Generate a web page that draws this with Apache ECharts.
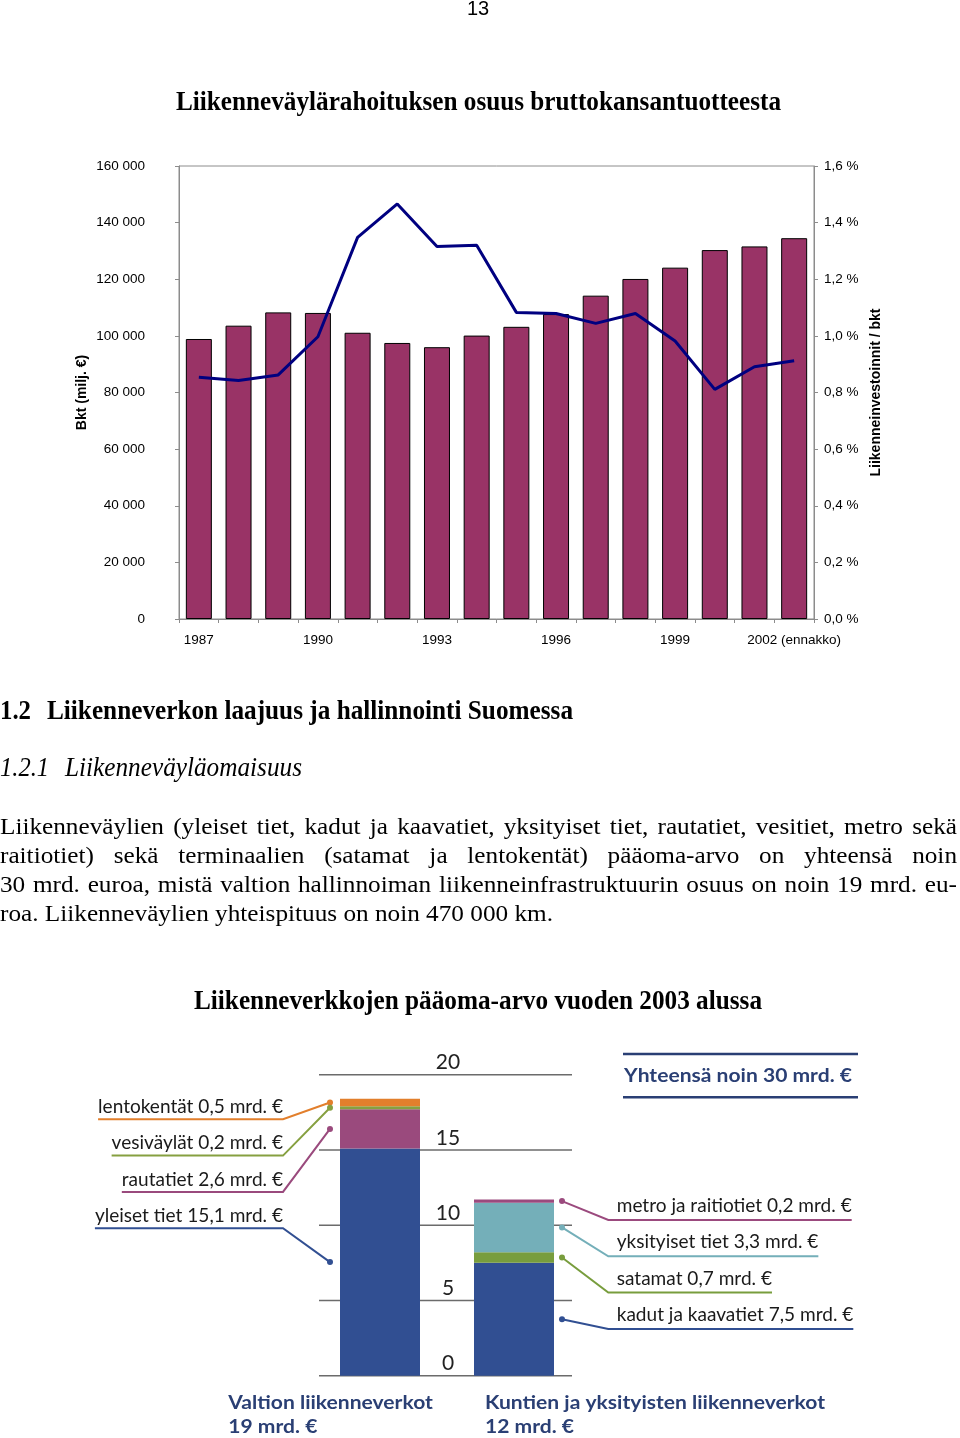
<!DOCTYPE html>
<html>
<head>
<meta charset="utf-8">
<script src="https://cdn.jsdelivr.net/npm/echarts@6/dist/echarts.min.js"></script>
<style>html,body{margin:0;padding:0;background:#fff}#main{width:960px;height:1438px}</style>
</head>
<body>
<div id="main"></div>
<script>
// ---------- Chart 1 data ----------
const years = ['1987','1988','1989','1990','1991','1992','1993','1994','1995','1996','1997','1998','1999','2000','2001','2002 (ennakko)'];
const gdpMillions = [98900,103600,108300,108100,101100,97500,96000,100100,103200,107700,114200,120100,124100,130300,131600,134500];
const investShare = [0.854,0.842,0.862,0.997,1.348,1.466,1.316,1.320,1.083,1.079,1.044,1.079,0.982,0.811,0.891,0.912];
const gdpTicks = [0,20000,40000,60000,80000,100000,120000,140000,160000];
const shareTicks = [0,0.2,0.4,0.6,0.8,1.0,1.2,1.4,1.6];

// ---------- Chart 2 data ----------
const networkNames = ['Valtion liikenneverkot','Kuntien ja yksityisten liikenneverkot'];
const networkTotals = ['19 mrd. €','12 mrd. €'];
const stateParts = ['yleiset tiet','rautatiet','vesiväylät','lentokentät'];
const stateValues = [15.1, 2.6, 0.2, 0.5];
const localParts = ['kadut ja kaavatiet','satamat','yksityiset tiet','metro ja raitiotiet'];
const localValues = [7.5, 0.7, 3.3, 0.2];
const valueTicks = [0,5,10,15,20];
const grandTotal = 'Yhteensä noin 30 mrd. €';

// ---------- Texts ----------
const pageNumber = '13';
const title1 = 'Liikenneväylärahoituksen osuus bruttokansantuotteesta';
const title2 = 'Liikenneverkkojen pääoma-arvo vuoden 2003 alussa';
const heading = ['1.2', 'Liikenneverkon laajuus ja hallinnointi Suomessa'];
const subheading = ['1.2.1', 'Liikenneväyläomaisuus'];
const bodyLines = [
  'Liikenneväylien (yleiset tiet, kadut ja kaavatiet, yksityiset tiet, rautatiet, vesitiet, metro sekä',
  'raitiotiet) sekä terminaalien (satamat ja lentokentät) pääoma-arvo on yhteensä noin',
  '30 mrd. euroa, mistä valtion hallinnoiman liikenneinfrastruktuurin osuus on noin 19 mrd. eu-',
  'roa. Liikenneväylien yhteispituus on noin 470 000 km.'
];

// ---------- Styles ----------
const SANS = '"Liberation Sans", Arial, sans-serif';
const SERIF = '"Liberation Serif", "Times New Roman", serif';
const GILL = 'Lato, "Open Sans", sans-serif';
const stateColors = ['#314f92','#9a4a7d','#86a040','#e27f2c'];
const localColors = ['#314f92','#789d3d','#74afb9','#9b4a7e'];
const navy = '#2a3f74';
const axisGray = '#8c8c8c';

const fmtThousands = v => String(v).replace(/\B(?=(\d{3})+(?!\d))/g, ' ');
const fmtComma = v => String(v).replace('.', ',');

const chart = echarts.init(document.getElementById('main'), null, {renderer:'canvas', width:960, height:1438});

const series = [
  {type:'bar', name:'Bkt', xAxisIndex:0, yAxisIndex:0, data:gdpMillions, barWidth:26,
   itemStyle:{color:'#993366', borderColor:'#000', borderWidth:1}, silent:true, z:2},
  {type:'line', name:'Liikenneinvestoinnit / bkt', xAxisIndex:0, yAxisIndex:1, data:investShare,
   symbol:'none', lineStyle:{color:'#000080', width:3}, itemStyle:{color:'#000080'}, silent:true, z:3}
];
for (let k = 0; k < 4; k++) {
  series.push({
    type:'bar', xAxisIndex:1, yAxisIndex:2, stack:'net', barWidth:80, silent:true, z:2,
    data:[{value:stateValues[k], itemStyle:{color:stateColors[k]}}, {value:localValues[k], itemStyle:{color:localColors[k]}}]
  });
}

const axisFont = {color:'#000', fontFamily:SANS, fontSize:13.5};
const option = {
  animation:false,
  backgroundColor:'#ffffff',
  tooltip:{show:false},
  grid:[
    {left:179, right:146, top:166, bottom:819, show:true, borderColor:axisGray, borderWidth:1, backgroundColor:'transparent', containLabel:false, outerBoundsMode:'none'},
    {left:313, right:379, top:1074.7, bottom:62.3, show:false, containLabel:false, outerBoundsMode:'none'}
  ],
  xAxis:[
    {type:'category', gridIndex:0, data:years, boundaryGap:true,
     axisLine:{show:true, lineStyle:{color:axisGray, width:1}},
     axisTick:{show:true, interval:0, length:4, lineStyle:{color:axisGray}},
     axisLabel:Object.assign({interval:2, margin:14}, axisFont),
     splitLine:{show:false}},
    {type:'category', gridIndex:1, data:networkNames, show:false}
  ],
  yAxis:[
    {type:'value', gridIndex:0, min:gdpTicks[0], max:gdpTicks[gdpTicks.length-1], interval:gdpTicks[1]-gdpTicks[0], position:'left',
     name:'Bkt (milj. €)', nameLocation:'middle', nameGap:90, nameRotate:90, nameMoveOverlap:false,
     nameTextStyle:{fontFamily:SANS, fontSize:14, fontWeight:'bold', color:'#000'},
     axisLine:{show:true, lineStyle:{color:axisGray, width:1}},
     axisTick:{show:true, length:4, lineStyle:{color:axisGray}},
     splitLine:{show:false},
     axisLabel:Object.assign({margin:34, formatter:v => fmtThousands(v)}, axisFont)},
    {type:'value', gridIndex:0, min:shareTicks[0], max:shareTicks[shareTicks.length-1], interval:0.2, position:'right',
     name:'Liikenneinvestoinnit / bkt', nameLocation:'middle', nameGap:54, nameRotate:90,
     nameTextStyle:{fontFamily:SANS, fontSize:14, fontWeight:'bold', color:'#000'},
     axisLine:{show:true, lineStyle:{color:axisGray, width:1}},
     axisTick:{show:true, length:4, lineStyle:{color:axisGray}},
     splitLine:{show:false},
     axisLabel:Object.assign({margin:10, formatter:v => v.toFixed(1).replace('.', ',') + ' %'}, axisFont)},
    {type:'value', gridIndex:1, min:valueTicks[0], max:valueTicks[valueTicks.length-1], interval:5, position:'left', offset:-135,
     axisLine:{show:false}, axisTick:{show:false},
     splitLine:{show:false},
     axisLabel:{margin:0, align:'center', verticalAlign:'bottom', lineHeight:24, color:'#222', fontFamily:GILL, fontSize:21}}
  ],
  series
};
chart.setOption(option);

// ---------- Text & annotation layer ----------
const ctx = document.createElement('canvas').getContext('2d');
function tw(t, font) { ctx.font = font; return ctx.measureText(t).width; }
function txt(t, x, y, font, o) {
  o = o || {};
  const al = o.align || 'left';
  return {type:'text', x:x, y:y, scaleX:o.sx || 1, scaleY:1, z:100, silent:true,
    style:{text:t, font:font, fill:o.fill || '#000', align:al, textAlign:al, verticalAlign:'middle', textVerticalAlign:'middle'}};
}
function fitText(t, font, left, right, cy, fill) {
  const s = (right - left) / tw(t, font);
  return txt(t, left, cy, font, {sx:s, fill:fill});
}
const G = [];

// page number
G.push(txt(pageNumber, 478, 9, '20px ' + SANS, {align:'center'}));

// chart titles
const titleFont = 'bold 28px ' + SERIF;
G.push(fitText(title1, titleFont, 176, 781, 103));
G.push(fitText(title2, titleFont, 194, 762, 1002));

// headings
const headFont = 'bold 27px ' + SERIF;
G.push(fitText(heading[0], headFont, 0, 31, 712));
G.push(fitText(heading[1], headFont, 47, 573, 712));
const subFont = 'italic 27px ' + SERIF;
G.push(fitText(subheading[0], subFont, 0, 49, 769));
G.push(fitText(subheading[1], subFont, 65, 302, 769));

// body paragraph (justified)
const bodyFont = '23px ' + SERIF;
const bodyScale = 553 / tw(bodyLines[3], bodyFont);
const bodyTop = 828, bodyStep = 29, bodyWidth = 957;
bodyLines.forEach((line, li) => {
  const cy = bodyTop + li * bodyStep;
  if (li === bodyLines.length - 1) {
    G.push(txt(line, 0, cy, bodyFont, {sx:bodyScale}));
    return;
  }
  const words = line.split(' ');
  const widths = words.map(w => tw(w, bodyFont) * bodyScale);
  const total = widths.reduce((a, b) => a + b, 0);
  const gap = (bodyWidth - total) / (words.length - 1);
  let x = 0;
  words.forEach((w, i) => {
    G.push(txt(w, x, cy, bodyFont, {sx:bodyScale}));
    x += widths[i] + gap;
  });
});

// chart 2 gridlines (behind the bars)
valueTicks.forEach(v => {
  const y = chart.convertToPixel({yAxisIndex:2}, v);
  G.push({type:'line', z:1, silent:true, shape:{x1:319, y1:y, x2:572, y2:y}, style:{stroke:'#6b6b6b', lineWidth:1.5}});
});

// chart 2 annotations
const labFont = '19px ' + GILL;
const labScale = 235 / tw('metro ja raitiotiet 0,2 mrd. €', labFont);
const boldFont = 'bold 19px ' + GILL;
const boldScale = 340 / tw(networkNames[1], boldFont);
const halfBar = 40;

function segMid(values, i) {
  let base = 0;
  for (let j = 0; j < i; j++) base += values[j];
  return base + values[i] / 2;
}

// left (state) labels
const leftTop = 1107, rowStep = 36.3, leftEdge = 283;
for (let k = 0; k < stateParts.length; k++) {
  const i = stateParts.length - 1 - k;
  const label = stateParts[i] + ' ' + fmtComma(stateValues[i]) + ' mrd. €';
  const cy = leftTop + k * rowStep, uy = cy + 12.3;
  const w = tw(label, labFont) * labScale;
  const p = chart.convertToPixel({xAxisIndex:1, yAxisIndex:2}, [0, segMid(stateValues, i)]);
  const dx = p[0] - halfBar - 10, dy = p[1];
  G.push(txt(label, leftEdge, cy, labFont, {sx:labScale, align:'right', fill:'#1a1a1a'}));
  G.push({type:'polyline', z:90, silent:true, shape:{points:[[leftEdge - w, uy], [leftEdge, uy], [dx, dy]]},
          style:{stroke:stateColors[i], lineWidth:2, fill:null}});
  G.push({type:'circle', z:91, silent:true, shape:{cx:dx, cy:dy, r:3}, style:{fill:stateColors[i]}});
}

// right (local) labels
const rightTop = 1206, rightText = 616.7, elbowRight = 608.3;
for (let k = 0; k < localParts.length; k++) {
  const i = localParts.length - 1 - k;
  const label = localParts[i] + ' ' + fmtComma(localValues[i]) + ' mrd. €';
  const cy = rightTop + k * rowStep, uy = cy + 14;
  const w = tw(label, labFont) * labScale;
  const p = chart.convertToPixel({xAxisIndex:1, yAxisIndex:2}, [1, segMid(localValues, i)]);
  const dx = p[0] + halfBar + 8, dy = p[1];
  G.push(txt(label, rightText, cy, labFont, {sx:labScale, fill:'#1a1a1a'}));
  G.push({type:'polyline', z:90, silent:true, shape:{points:[[dx, dy], [elbowRight, uy], [rightText + w, uy]]},
          style:{stroke:localColors[i], lineWidth:2, fill:null}});
  G.push({type:'circle', z:91, silent:true, shape:{cx:dx, cy:dy, r:3}, style:{fill:localColors[i]}});
}

// total box
G.push({type:'line', z:90, silent:true, shape:{x1:623, y1:1054, x2:858, y2:1054}, style:{stroke:navy, lineWidth:2.5}});
G.push({type:'line', z:90, silent:true, shape:{x1:623, y1:1097.3, x2:858, y2:1097.3}, style:{stroke:navy, lineWidth:2.5}});
G.push(txt(grandTotal, 738, 1076, boldFont, {sx:boldScale, align:'center', fill:navy}));

// bottom captions
const capLeft = [228.3, 485];
networkNames.forEach((n, i) => {
  G.push(txt(n, capLeft[i], 1402.5, boldFont, {sx:boldScale, fill:navy}));
  G.push(txt(networkTotals[i], capLeft[i], 1426.5, boldFont, {sx:boldScale, fill:navy}));
});

chart.setOption({graphic:{elements:G}});
</script>
</body>
</html>
